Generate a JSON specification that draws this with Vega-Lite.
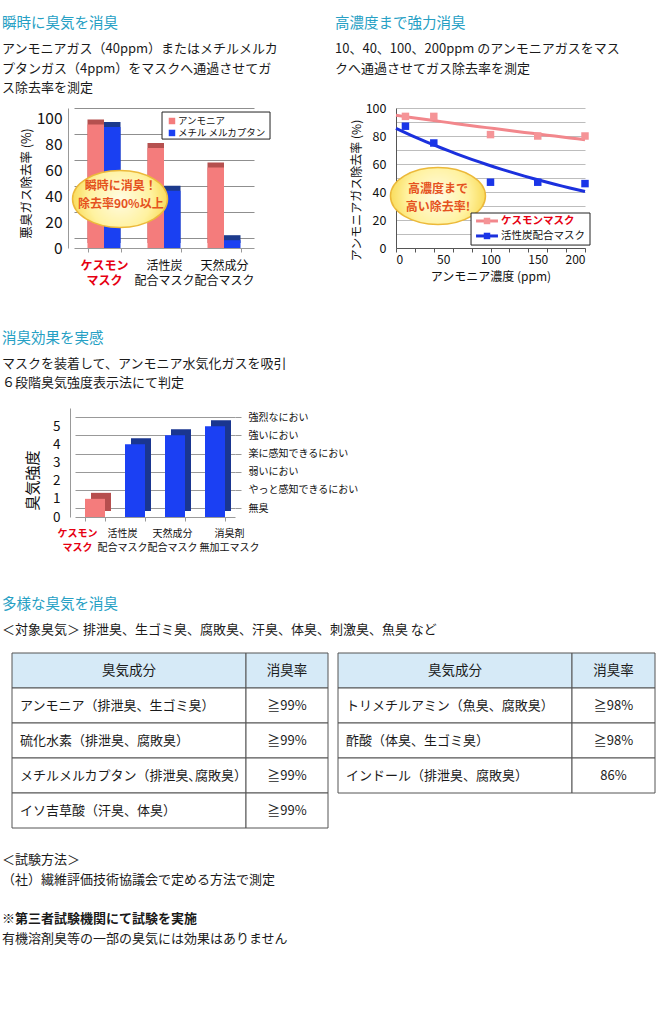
{
"$schema": "https://vega.github.io/schema/vega-lite/v6.json",
"padding": 0,
"background": "white",
"spacing": 0,
"bounds": "flush",
"resolve": {"scale": {"color": "independent", "fill": "independent", "stroke": "independent"}},
"config": {
  "font": "Noto Sans CJK JP",
  "view": {"stroke": null},
  "axis": {"labelFont": "Noto Sans CJK JP", "titleFont": "Noto Sans CJK JP", "labelColor": "#111", "titleColor": "#111"},
  "legend": {"labelFont": "Noto Sans CJK JP"},
  "text": {"font": "Noto Sans CJK JP"}
},
"vconcat": [
  {
    "width": 667, "height": 108,
    "data": {"values": [
      {"col": "L", "line": 0, "t": "瞬時に臭気を消臭"},
      {"col": "L", "line": 1, "t": "アンモニアガス（40ppm）またはメチルメルカ"},
      {"col": "L", "line": 2, "t": "プタンガス（4ppm）をマスクへ通過させてガ"},
      {"col": "L", "line": 3, "t": "ス除去率を測定"},
      {"col": "R", "line": 0, "t": "高濃度まで強力消臭"},
      {"col": "R", "line": 1, "t": "10、40、100、200ppm のアンモニアガスをマス"},
      {"col": "R", "line": 2, "t": "クへ通過させてガス除去率を測定"}
    ]},
    "encoding": {
      "x": {"field": "col", "type": "nominal", "scale": {"type": "point", "domain": ["L", "R"], "range": [2, 335], "padding": 0}, "axis": null},
      "y": {"field": "line", "type": "quantitative", "scale": {"domain": [1, 3], "range": [49, 88], "zero": false, "nice": false}, "axis": null},
      "text": {"field": "t"}
    },
    "layer": [
      {"transform": [{"filter": "datum.line == 0"}], "mark": {"type": "text", "align": "left", "baseline": "middle", "fontSize": 14.5, "color": "#26a0c4", "dy": -6}},
      {"transform": [{"filter": "datum.line > 0"}], "mark": {"type": "text", "align": "left", "baseline": "middle", "fontSize": 13, "color": "#1a1a1a"}}
    ]
  },
  {
    "spacing": 0, "bounds": "flush",
    "resolve": {"scale": {"color": "independent", "fill": "independent", "stroke": "independent"}},
    "hconcat": [
      {"width": 74, "height": 140, "data": {"values": []}, "mark": "text"},
      {
        "width": 180, "height": 140,
        "data": {"values": [
          {"mask": "ケスモンマスク", "gas": "アンモニア", "rate": 95},
          {"mask": "ケスモンマスク", "gas": "メチル メルカプタン", "rate": 93},
          {"mask": "活性炭配合マスク", "gas": "アンモニア", "rate": 77},
          {"mask": "活性炭配合マスク", "gas": "メチル メルカプタン", "rate": 44},
          {"mask": "天然成分配合マスク", "gas": "アンモニア", "rate": 62},
          {"mask": "天然成分配合マスク", "gas": "メチル メルカプタン", "rate": 6}
        ]},
        "layer": [
          {"layer": [
            {"mark": {"type": "bar", "xOffset": 6, "x2Offset": 6, "yOffset": -5, "y2Offset": -5},
             "encoding": {
               "x": {"field": "mask", "type": "nominal", "sort": null, "title": null, "scale": {"domain": ["ケスモンマスク", "活性炭配合マスク", "天然成分配合マスク"], "paddingInner": 0.45, "paddingOuter": 0.225},
                     "axis": {"orient": "bottom", "tickBand": "extent", "labelAngle": 0, "domainColor": "#999", "tickColor": "#999", "tickSize": 4, "labelPadding": 8, "labelFontSize": 12, "labelLineHeight": 15,
                              "labelExpr": "datum.value == 'ケスモンマスク' ? ['ケスモン', 'マスク'] : datum.value == '活性炭配合マスク' ? ['活性炭', '配合マスク'] : datum.value == '天然成分配合マスク' ? ['天然成分', '配合マスク'] : ''",
                              "labelColor": {"condition": {"test": "datum.value == 'ケスモンマスク'", "value": "#e60012"}, "value": "#111"},
                              "labelFontWeight": {"condition": {"test": "datum.value == 'ケスモンマスク'", "value": "bold"}, "value": "normal"}}},
               "xOffset": {"field": "gas", "type": "nominal", "sort": null, "scale": {"domain": ["アンモニア", "メチル メルカプタン"], "paddingInner": 0, "paddingOuter": 0}},
               "y": {"field": "rate", "type": "quantitative", "title": "悪臭ガス除去率 (%)", "scale": {"domain": [0, 107.7], "nice": false},
                     "axis": {"orient": "left", "values": [0, 20, 40, 60, 80, 100], "offset": 6, "tickOffset": -10, "labelOffset": 10, "ticks": false, "grid": true, "gridColor": "#8f8f8f", "domainColor": "#999", "labelFontSize": 15.5, "labelPadding": 6, "titleFontSize": 12.5, "titleFontWeight": "normal", "titlePadding": 3, "titleY": 75}},
               "fill": {"field": "gas", "type": "nominal", "scale": {"domain": ["アンモニア", "メチル メルカプタン"], "range": ["#b5504f", "#1c3a8c"]}, "legend": null}
             }},
            {"mark": {"type": "bar"},
             "encoding": {
               "x": {"field": "mask", "type": "nominal", "sort": null, "title": null, "scale": {"domain": ["ケスモンマスク", "活性炭配合マスク", "天然成分配合マスク"], "paddingInner": 0.45, "paddingOuter": 0.225},
                     "axis": {"orient": "bottom", "tickBand": "extent", "labelAngle": 0, "domainColor": "#999", "tickColor": "#999", "tickSize": 4, "labelPadding": 8, "labelFontSize": 12, "labelLineHeight": 15,
                              "labelExpr": "datum.value == 'ケスモンマスク' ? ['ケスモン', 'マスク'] : datum.value == '活性炭配合マスク' ? ['活性炭', '配合マスク'] : datum.value == '天然成分配合マスク' ? ['天然成分', '配合マスク'] : ''",
                              "labelColor": {"condition": {"test": "datum.value == 'ケスモンマスク'", "value": "#e60012"}, "value": "#111"},
                              "labelFontWeight": {"condition": {"test": "datum.value == 'ケスモンマスク'", "value": "bold"}, "value": "normal"}}},
               "xOffset": {"field": "gas", "type": "nominal", "sort": null, "scale": {"domain": ["アンモニア", "メチル メルカプタン"], "paddingInner": 0, "paddingOuter": 0}},
               "y": {"field": "rate", "type": "quantitative", "title": "悪臭ガス除去率 (%)", "scale": {"domain": [0, 107.7], "nice": false},
                     "axis": {"orient": "left", "values": [0, 20, 40, 60, 80, 100], "offset": 6, "tickOffset": -10, "labelOffset": 10, "ticks": false, "grid": true, "gridColor": "#8f8f8f", "domainColor": "#999", "labelFontSize": 15.5, "labelPadding": 6, "titleFontSize": 12.5, "titleFontWeight": "normal", "titlePadding": 3, "titleY": 75}},
               "color": {"field": "gas", "type": "nominal", "scale": {"domain": ["アンモニア", "メチル メルカプタン"], "range": ["#f47c7c", "#1a40f2"]}, "legend": null}
             }}
          ]},
          {"data": {"values": [{}]},
           "layer": [
             {"mark": {"type": "point", "shape": "M-1,0A1,0.6,0,1,1,1,0A1,0.6,0,1,1,-1,0Z", "size": 9025, "filled": true, "opacity": 1,
                       "fill": {"gradient": "radial", "stops": [{"offset": 0, "color": "#fffbe3"}, {"offset": 0.65, "color": "#fff2a0"}, {"offset": 1, "color": "#f9dc5c"}]},
                       "stroke": "#ecb93a", "strokeWidth": 1.5},
              "encoding": {"x": {"datum": 0.767, "type": "quantitative", "scale": {"domain": [0, 3]}, "axis": null},
                           "y": {"datum": 37.7, "type": "quantitative", "scale": {"domain": [0, 107.7], "nice": false}, "axis": null}}},
             {"mark": {"type": "text", "text": "瞬時に消臭！", "fontSize": 12, "fontWeight": "bold", "color": "#e5521e"},
              "encoding": {"x": {"datum": 0.78, "type": "quantitative", "scale": {"domain": [0, 3]}, "axis": null},
                           "y": {"datum": 47.5, "type": "quantitative", "scale": {"domain": [0, 107.7], "nice": false}, "axis": null}}},
             {"mark": {"type": "text", "text": "除去率90%以上", "fontSize": 12, "fontWeight": "bold", "color": "#e5521e"},
              "encoding": {"x": {"datum": 0.78, "type": "quantitative", "scale": {"domain": [0, 3]}, "axis": null},
                           "y": {"datum": 33.8, "type": "quantitative", "scale": {"domain": [0, 107.7], "nice": false}, "axis": null}}},
             {"mark": {"type": "rect", "fill": "white", "stroke": "#222", "strokeWidth": 1},
              "encoding": {"x": {"datum": 1.467, "type": "quantitative", "scale": {"domain": [0, 3]}, "axis": null}, "x2": {"datum": 3.267},
                           "y": {"datum": 104.6, "type": "quantitative", "scale": {"domain": [0, 107.7], "nice": false}, "axis": null}, "y2": {"datum": 83.8}}},
             {"mark": {"type": "square", "filled": true, "opacity": 1, "size": 42, "color": "#f47c7c"},
              "encoding": {"x": {"datum": 1.633, "type": "quantitative", "scale": {"domain": [0, 3]}, "axis": null},
                           "y": {"datum": 97.7, "type": "quantitative", "scale": {"domain": [0, 107.7], "nice": false}, "axis": null}}},
             {"mark": {"type": "square", "filled": true, "opacity": 1, "size": 42, "color": "#1a40f2"},
              "encoding": {"x": {"datum": 1.633, "type": "quantitative", "scale": {"domain": [0, 3]}, "axis": null},
                           "y": {"datum": 88.5, "type": "quantitative", "scale": {"domain": [0, 107.7], "nice": false}, "axis": null}}},
             {"mark": {"type": "text", "text": "アンモニア", "fontSize": 9.5, "align": "left", "baseline": "middle", "color": "#111"},
              "encoding": {"x": {"datum": 1.733, "type": "quantitative", "scale": {"domain": [0, 3]}, "axis": null},
                           "y": {"datum": 97.7, "type": "quantitative", "scale": {"domain": [0, 107.7], "nice": false}, "axis": null}}},
             {"mark": {"type": "text", "text": "メチル メルカプタン", "fontSize": 9.5, "align": "left", "baseline": "middle", "color": "#111"},
              "encoding": {"x": {"datum": 1.733, "type": "quantitative", "scale": {"domain": [0, 3]}, "axis": null},
                           "y": {"datum": 88.5, "type": "quantitative", "scale": {"domain": [0, 107.7], "nice": false}, "axis": null}}}
           ]}
        ],
        "resolve": {"scale": {"x": "independent", "y": "independent"}}
      },
      {"width": 142, "height": 140, "data": {"values": []}, "mark": "text"},
      {
        "width": 189, "height": 140,
        "data": {"values": [
          {"mask": "ケスモンマスク", "conc": 10, "rate": 94},
          {"mask": "ケスモンマスク", "conc": 40, "rate": 94},
          {"mask": "ケスモンマスク", "conc": 100, "rate": 81},
          {"mask": "ケスモンマスク", "conc": 150, "rate": 80},
          {"mask": "ケスモンマスク", "conc": 200, "rate": 80},
          {"mask": "活性炭配合マスク", "conc": 10, "rate": 87},
          {"mask": "活性炭配合マスク", "conc": 40, "rate": 75},
          {"mask": "活性炭配合マスク", "conc": 100, "rate": 47},
          {"mask": "活性炭配合マスク", "conc": 150, "rate": 47},
          {"mask": "活性炭配合マスク", "conc": 200, "rate": 46}
        ]},
        "layer": [
          {"layer": [
            {"transform": [{"regression": "rate", "on": "conc", "groupby": ["mask"], "method": "exp", "extent": [0, 200]}],
             "mark": {"type": "line", "strokeWidth": 3},
             "encoding": {
               "x": {"field": "conc", "type": "quantitative", "title": "アンモニア濃度 (ppm)", "scale": {"domain": [0, 200], "nice": false},
                     "axis": {"orient": "bottom", "values": [0, 20, 40, 50, 60, 80, 100, 120, 140, 150, 160, 180, 200], "labelExpr": "datum.value % 50 == 0 ? datum.label : ''", "labelOverlap": false, "labelBound": false,
                              "tickOpacity": {"condition": {"test": "datum.value % 20 != 0", "value": 0}, "value": 1},
                              "grid": false, "domainColor": "#555", "tickColor": "#555", "tickSize": 4, "labelFontSize": 12, "labelPadding": 2, "titleFontSize": 12, "titleFontWeight": "normal", "titlePadding": 6}},
               "y": {"field": "rate", "type": "quantitative", "title": "アンモニアガス除去率 (%)", "scale": {"domain": [0, 100], "nice": false},
                     "axis": {"orient": "left", "values": [0, 10, 20, 30, 40, 50, 60, 70, 80, 90, 100], "labelExpr": "datum.value % 20 == 0 ? datum.label : ''", "labelOverlap": false, "labelBound": false, "grid": true, "gridColor": "#bdbdbd", "ticks": false, "domainColor": "#555", "labelFontSize": 12.5, "labelPadding": 10, "titleFontSize": 12, "titleFontWeight": "normal", "titlePadding": 2, "titleY": 82}},
               "stroke": {"field": "mask", "type": "nominal", "scale": {"domain": ["ケスモンマスク", "活性炭配合マスク"], "range": ["#f2878c", "#1b30dd"]}, "legend": null}
             }},
            {"mark": {"type": "square", "filled": true, "opacity": 1, "size": 56},
             "encoding": {
               "x": {"field": "conc", "type": "quantitative", "title": "アンモニア濃度 (ppm)", "scale": {"domain": [0, 200], "nice": false},
                     "axis": {"orient": "bottom", "values": [0, 20, 40, 50, 60, 80, 100, 120, 140, 150, 160, 180, 200], "labelExpr": "datum.value % 50 == 0 ? datum.label : ''", "labelOverlap": false, "labelBound": false,
                              "tickOpacity": {"condition": {"test": "datum.value % 20 != 0", "value": 0}, "value": 1},
                              "grid": false, "domainColor": "#555", "tickColor": "#555", "tickSize": 4, "labelFontSize": 12, "labelPadding": 2, "titleFontSize": 12, "titleFontWeight": "normal", "titlePadding": 6}},
               "y": {"field": "rate", "type": "quantitative", "title": "アンモニアガス除去率 (%)", "scale": {"domain": [0, 100], "nice": false},
                     "axis": {"orient": "left", "values": [0, 10, 20, 30, 40, 50, 60, 70, 80, 90, 100], "labelExpr": "datum.value % 20 == 0 ? datum.label : ''", "labelOverlap": false, "labelBound": false, "grid": true, "gridColor": "#bdbdbd", "ticks": false, "domainColor": "#555", "labelFontSize": 12.5, "labelPadding": 10, "titleFontSize": 12, "titleFontWeight": "normal", "titlePadding": 2, "titleY": 82}},
               "color": {"field": "mask", "type": "nominal", "scale": {"domain": ["ケスモンマスク", "活性炭配合マスク"], "range": ["#f59497", "#1a35e8"]}, "legend": null}
             }}
          ]},
          {"data": {"values": [{}]},
           "layer": [
             {"mark": {"type": "point", "shape": "M-1,0A1,0.6,0,1,1,1,0A1,0.6,0,1,1,-1,0Z", "size": 9025, "filled": true, "opacity": 1,
                       "fill": {"gradient": "radial", "stops": [{"offset": 0, "color": "#fffbe3"}, {"offset": 0.65, "color": "#fff2a0"}, {"offset": 1, "color": "#f9dc5c"}]},
                       "stroke": "#ecb93a", "strokeWidth": 1.5},
              "encoding": {"x": {"datum": 44.4, "type": "quantitative", "scale": {"domain": [0, 200], "nice": false}, "axis": null},
                           "y": {"datum": 37.1, "type": "quantitative", "scale": {"domain": [0, 100], "nice": false}, "axis": null}}},
             {"mark": {"type": "text", "text": "高濃度まで", "fontSize": 12, "fontWeight": "bold", "color": "#e5521e"},
              "encoding": {"x": {"datum": 44.4, "type": "quantitative", "scale": {"domain": [0, 200], "nice": false}, "axis": null},
                           "y": {"datum": 42.3, "type": "quantitative", "scale": {"domain": [0, 100], "nice": false}, "axis": null}}},
             {"mark": {"type": "text", "text": "高い除去率!", "fontSize": 12, "fontWeight": "bold", "color": "#e5521e"},
              "encoding": {"x": {"datum": 44.4, "type": "quantitative", "scale": {"domain": [0, 200], "nice": false}, "axis": null},
                           "y": {"datum": 29.6, "type": "quantitative", "scale": {"domain": [0, 100], "nice": false}, "axis": null}}},
             {"mark": {"type": "rect", "fill": "white", "stroke": "#222", "strokeWidth": 1},
              "encoding": {"x": {"datum": 79.4, "type": "quantitative", "scale": {"domain": [0, 200], "nice": false}, "axis": null}, "x2": {"datum": 205.3},
                           "y": {"datum": 25, "type": "quantitative", "scale": {"domain": [0, 100], "nice": false}, "axis": null}, "y2": {"datum": 2.1}}},
             {"mark": {"type": "rule", "stroke": "#f2878c", "strokeWidth": 3},
              "encoding": {"x": {"datum": 84.7, "type": "quantitative", "scale": {"domain": [0, 200], "nice": false}, "axis": null}, "x2": {"datum": 107.9},
                           "y": {"datum": 19.3, "type": "quantitative", "scale": {"domain": [0, 100], "nice": false}, "axis": null}}},
             {"mark": {"type": "rule", "stroke": "#1b30dd", "strokeWidth": 3},
              "encoding": {"x": {"datum": 84.7, "type": "quantitative", "scale": {"domain": [0, 200], "nice": false}, "axis": null}, "x2": {"datum": 107.9},
                           "y": {"datum": 8.6, "type": "quantitative", "scale": {"domain": [0, 100], "nice": false}, "axis": null}}},
             {"mark": {"type": "square", "filled": true, "opacity": 1, "size": 42, "color": "#f59497"},
              "encoding": {"x": {"datum": 96.3, "type": "quantitative", "scale": {"domain": [0, 200], "nice": false}, "axis": null},
                           "y": {"datum": 19.3, "type": "quantitative", "scale": {"domain": [0, 100], "nice": false}, "axis": null}}},
             {"mark": {"type": "square", "filled": true, "opacity": 1, "size": 42, "color": "#1a35e8"},
              "encoding": {"x": {"datum": 96.3, "type": "quantitative", "scale": {"domain": [0, 200], "nice": false}, "axis": null},
                           "y": {"datum": 8.6, "type": "quantitative", "scale": {"domain": [0, 100], "nice": false}, "axis": null}}},
             {"mark": {"type": "text", "text": "ケスモンマスク", "fontSize": 10.5, "fontWeight": "bold", "align": "left", "baseline": "middle", "color": "#e60012"},
              "encoding": {"x": {"datum": 111.1, "type": "quantitative", "scale": {"domain": [0, 200], "nice": false}, "axis": null},
                           "y": {"datum": 19.3, "type": "quantitative", "scale": {"domain": [0, 100], "nice": false}, "axis": null}}},
             {"mark": {"type": "text", "text": "活性炭配合マスク", "fontSize": 10.5, "align": "left", "baseline": "middle", "color": "#111"},
              "encoding": {"x": {"datum": 111.1, "type": "quantitative", "scale": {"domain": [0, 200], "nice": false}, "axis": null},
                           "y": {"datum": 8.6, "type": "quantitative", "scale": {"domain": [0, 100], "nice": false}, "axis": null}}}
           ]}
        ],
        "resolve": {"scale": {"x": "independent", "y": "independent"}}
      }
    ]
  },
  {"width": 667, "height": 140, "data": {"values": []}, "mark": "text"},
  {
    "width": 667, "height": 160,
    "data": {"values": [
      {"col": "L", "line": 0, "t": "消臭効果を実感"},
      {"col": "L", "line": 1, "t": "マスクを装着して、アンモニア水気化ガスを吸引"},
      {"col": "L", "line": 2, "t": "６段階臭気強度表示法にて判定"}
    ]},
    "encoding": {
      "x": {"field": "col", "type": "nominal", "scale": {"type": "point", "domain": ["L", "R"], "range": [2, 335], "padding": 0}, "axis": null},
      "y": {"field": "line", "type": "quantitative", "scale": {"domain": [1, 2], "range": [116, 135], "zero": false, "nice": false}, "axis": null},
      "text": {"field": "t"}
    },
    "layer": [
      {"transform": [{"filter": "datum.line == 0"}], "mark": {"type": "text", "align": "left", "baseline": "middle", "fontSize": 14.5, "color": "#26a0c4", "dy": -6}},
      {"transform": [{"filter": "datum.line > 0"}], "mark": {"type": "text", "align": "left", "baseline": "middle", "fontSize": 13, "color": "#1a1a1a"}}
    ]
  },
  {
    "spacing": 0, "bounds": "flush",
    "hconcat": [
      {"width": 75, "height": 109, "data": {"values": []}, "mark": "text"},
      {
        "width": 160, "height": 109,
        "data": {"values": [
          {"mask": "ケスモンマスク", "level": 1},
          {"mask": "活性炭配合マスク", "level": 4},
          {"mask": "天然成分配合マスク", "level": 4.5},
          {"mask": "消臭剤無加工マスク", "level": 5}
        ]},
        "layer": [
          {"mark": {"type": "bar", "xOffset": 6, "x2Offset": 6, "yOffset": -6, "y2Offset": -6},
           "encoding": {
             "x": {"field": "mask", "type": "nominal", "sort": null, "title": null, "scale": {"paddingInner": 0.5, "paddingOuter": 0.25},
                   "axis": {"orient": "bottom", "tickBand": "extent", "labelAngle": 0, "domainColor": "#999", "tickColor": "#999", "tickSize": 4, "labelPadding": 7, "labelFontSize": 10, "labelLineHeight": 14,
                            "labelExpr": "datum.value == 'ケスモンマスク' ? ['ケスモン', 'マスク'] : datum.value == '活性炭配合マスク' ? ['活性炭', '配合マスク'] : datum.value == '天然成分配合マスク' ? ['天然成分', '配合マスク'] : datum.value == '消臭剤無加工マスク' ? ['消臭剤', '無加工マスク'] : ''",
                            "labelOffset": {"expr": "datum.value == 'ケスモンマスク' ? -18 : datum.value == '活性炭配合マスク' ? -13 : datum.value == '天然成分配合マスク' ? -3 : 14"},
                            "labelColor": {"condition": {"test": "datum.value == 'ケスモンマスク'", "value": "#e60012"}, "value": "#111"},
                            "labelFontWeight": {"condition": {"test": "datum.value == 'ケスモンマスク'", "value": "bold"}, "value": "normal"}}},
             "y": {"field": "level", "type": "quantitative", "title": null, "scale": {"domain": [0, 6], "nice": false},
                   "axis": {"orient": "right", "values": [0, 1, 2, 3, 4, 5], "tickOffset": -9, "domain": false, "ticks": true, "tickSize": 6, "tickColor": "#999", "grid": false, "labelPadding": 7, "labelFontSize": 10, "labelColor": "#111", "labelLimit": 300,
                            "labelExpr": "['無臭', 'やっと感知できるにおい', '弱いにおい', '楽に感知できるにおい', '強いにおい', '強烈なにおい'][datum.value]"}},
             "color": {"condition": {"test": "datum.mask == 'ケスモンマスク'", "value": "#b64e4e"}, "value": "#1a3690"}
           }},
          {"mark": {"type": "bar"},
           "encoding": {
             "x": {"field": "mask", "type": "nominal", "sort": null, "title": null, "scale": {"paddingInner": 0.5, "paddingOuter": 0.25},
                   "axis": {"orient": "bottom", "tickBand": "extent", "labelAngle": 0, "domainColor": "#999", "tickColor": "#999", "tickSize": 4, "labelPadding": 7, "labelFontSize": 10, "labelLineHeight": 14,
                            "labelExpr": "datum.value == 'ケスモンマスク' ? ['ケスモン', 'マスク'] : datum.value == '活性炭配合マスク' ? ['活性炭', '配合マスク'] : datum.value == '天然成分配合マスク' ? ['天然成分', '配合マスク'] : datum.value == '消臭剤無加工マスク' ? ['消臭剤', '無加工マスク'] : ''",
                            "labelOffset": {"expr": "datum.value == 'ケスモンマスク' ? -18 : datum.value == '活性炭配合マスク' ? -13 : datum.value == '天然成分配合マスク' ? -3 : 14"},
                            "labelColor": {"condition": {"test": "datum.value == 'ケスモンマスク'", "value": "#e60012"}, "value": "#111"},
                            "labelFontWeight": {"condition": {"test": "datum.value == 'ケスモンマスク'", "value": "bold"}, "value": "normal"}}},
             "y": {"field": "level", "type": "quantitative", "title": "臭気強度", "scale": {"domain": [0, 6], "nice": false},
                   "axis": {"orient": "left", "values": [0, 1, 2, 3, 4, 5], "offset": 5, "tickOffset": -9, "labelOffset": 9, "ticks": false, "grid": true, "gridColor": "#999", "domainColor": "#999", "labelFontSize": 13.5, "labelPadding": 10, "titleFontSize": 15, "titleFontWeight": "normal", "titlePadding": 12, "titleY": 72}},
             "color": {"condition": {"test": "datum.mask == 'ケスモンマスク'", "value": "#f47c7c"}, "value": "#1b40f3"}
           }}
        ],
        "resolve": {"axis": {"y": "independent"}}
      }
    ]
  },
  {"width": 667, "height": 109, "data": {"values": []}, "mark": "text"},
  {
    "width": 667, "height": 136,
    "data": {"values": [
      {"col": "L", "line": 0, "t": "多様な臭気を消臭"},
      {"col": "L", "line": 1, "t": "＜対象臭気＞ 排泄臭、生ゴミ臭、腐敗臭、汗臭、体臭、刺激臭、魚臭 など"}
    ]},
    "encoding": {
      "x": {"field": "col", "type": "nominal", "scale": {"type": "point", "domain": ["L", "R"], "range": [2, 335], "padding": 0}, "axis": null},
      "y": {"field": "line", "type": "quantitative", "scale": {"domain": [0, 1], "range": [93.5, 113], "zero": false, "nice": false}, "axis": null},
      "text": {"field": "t"}
    },
    "layer": [
      {"transform": [{"filter": "datum.line == 0"}], "mark": {"type": "text", "align": "left", "baseline": "middle", "fontSize": 14.5, "color": "#26a0c4", "dy": -6}},
      {"transform": [{"filter": "datum.line > 0"}], "mark": {"type": "text", "align": "left", "baseline": "middle", "fontSize": 13, "color": "#1a1a1a"}}
    ]
  },
  {
    "spacing": 0, "bounds": "flush",
    "hconcat": [
      {"width": 12, "height": 175, "data": {"values": []}, "mark": "text"},
      {
        "width": 234, "height": 175,
        "data": {"values": [
          {"row": "h", "t": "臭気成分"},
          {"row": "1", "t": "アンモニア（排泄臭、生ゴミ臭）"},
          {"row": "2", "t": "硫化水素（排泄臭、腐敗臭）"},
          {"row": "3", "t": "メチルメルカプタン（排泄臭､腐敗臭）"},
          {"row": "4", "t": "イソ吉草酸（汗臭、体臭）"}
        ]},
        "encoding": {"y": {"field": "row", "type": "nominal", "sort": null, "scale": {"type": "band", "domain": ["h", "1", "2", "3", "4"], "paddingInner": 0, "paddingOuter": 0}, "axis": null}},
        "layer": [
          {"mark": {"type": "rect", "stroke": "#555", "strokeWidth": 1}, "encoding": {"fill": {"condition": {"test": "datum.row == 'h'", "value": "#d6eaf7"}, "value": "#ffffff"}}},
          {"transform": [{"filter": "datum.row == 'h'"}], "mark": {"type": "text", "fontSize": 13.5, "color": "#1a1a1a"}, "encoding": {"text": {"field": "t"}}},
          {"transform": [{"filter": "datum.row != 'h'"}], "mark": {"type": "text", "fontSize": 13, "align": "left", "dx": 8, "color": "#1a1a1a"},
           "encoding": {"x": {"datum": "c", "type": "nominal", "bandPosition": 0, "scale": {"type": "band", "domain": ["c"], "paddingInner": 0, "paddingOuter": 0}, "axis": null}, "text": {"field": "t"}}}
        ]
      },
      {
        "width": 82, "height": 175,
        "data": {"values": [
          {"row": "h", "t": "消臭率"},
          {"row": "1", "t": "≧99%"},
          {"row": "2", "t": "≧99%"},
          {"row": "3", "t": "≧99%"},
          {"row": "4", "t": "≧99%"}
        ]},
        "encoding": {"y": {"field": "row", "type": "nominal", "sort": null, "scale": {"type": "band", "domain": ["h", "1", "2", "3", "4"], "paddingInner": 0, "paddingOuter": 0}, "axis": null}},
        "layer": [
          {"mark": {"type": "rect", "stroke": "#555", "strokeWidth": 1}, "encoding": {"fill": {"condition": {"test": "datum.row == 'h'", "value": "#d6eaf7"}, "value": "#ffffff"}}},
          {"transform": [{"filter": "datum.row == 'h'"}], "mark": {"type": "text", "fontSize": 13.5, "color": "#1a1a1a"}, "encoding": {"text": {"field": "t"}}},
          {"transform": [{"filter": "datum.row != 'h'"}], "mark": {"type": "text", "fontSize": 13, "color": "#1a1a1a"}, "encoding": {"text": {"field": "t"}}}
        ]
      },
      {"width": 10, "height": 175, "data": {"values": []}, "mark": "text"},
      {
        "width": 234, "height": 175,
        "data": {"values": [
          {"row": "h", "t": "臭気成分"},
          {"row": "1", "t": "トリメチルアミン（魚臭、腐敗臭）"},
          {"row": "2", "t": "酢酸（体臭、生ゴミ臭）"},
          {"row": "3", "t": "インドール（排泄臭、腐敗臭）"}
        ]},
        "encoding": {"y": {"field": "row", "type": "nominal", "sort": null, "scale": {"type": "band", "domain": ["h", "1", "2", "3", "4"], "paddingInner": 0, "paddingOuter": 0}, "axis": null}},
        "layer": [
          {"mark": {"type": "rect", "stroke": "#555", "strokeWidth": 1}, "encoding": {"fill": {"condition": {"test": "datum.row == 'h'", "value": "#d6eaf7"}, "value": "#ffffff"}}},
          {"transform": [{"filter": "datum.row == 'h'"}], "mark": {"type": "text", "fontSize": 13.5, "color": "#1a1a1a"}, "encoding": {"text": {"field": "t"}}},
          {"transform": [{"filter": "datum.row != 'h'"}], "mark": {"type": "text", "fontSize": 13, "align": "left", "dx": 8, "color": "#1a1a1a"},
           "encoding": {"x": {"datum": "c", "type": "nominal", "bandPosition": 0, "scale": {"type": "band", "domain": ["c"], "paddingInner": 0, "paddingOuter": 0}, "axis": null}, "text": {"field": "t"}}}
        ]
      },
      {
        "width": 83, "height": 175,
        "data": {"values": [
          {"row": "h", "t": "消臭率"},
          {"row": "1", "t": "≧98%"},
          {"row": "2", "t": "≧98%"},
          {"row": "3", "t": "86%"}
        ]},
        "encoding": {"y": {"field": "row", "type": "nominal", "sort": null, "scale": {"type": "band", "domain": ["h", "1", "2", "3", "4"], "paddingInner": 0, "paddingOuter": 0}, "axis": null}},
        "layer": [
          {"mark": {"type": "rect", "stroke": "#555", "strokeWidth": 1}, "encoding": {"fill": {"condition": {"test": "datum.row == 'h'", "value": "#d6eaf7"}, "value": "#ffffff"}}},
          {"transform": [{"filter": "datum.row == 'h'"}], "mark": {"type": "text", "fontSize": 13.5, "color": "#1a1a1a"}, "encoding": {"text": {"field": "t"}}},
          {"transform": [{"filter": "datum.row != 'h'"}], "mark": {"type": "text", "fontSize": 13, "color": "#1a1a1a"}, "encoding": {"text": {"field": "t"}}}
        ]
      }
    ]
  },
  {"width": 667, "height": 175, "data": {"values": []}, "mark": "text"},
  {
    "width": 667, "height": 196,
    "data": {"values": [
      {"col": "L", "line": 1, "t": "＜試験方法＞"},
      {"col": "L", "line": 2, "t": "（社）繊維評価技術協議会で定める方法で測定"},
      {"col": "L", "line": 4, "t": "※第三者試験機関にて試験を実施"},
      {"col": "L", "line": 5, "t": "有機溶剤臭等の一部の臭気には効果はありません"}
    ]},
    "encoding": {
      "x": {"field": "col", "type": "nominal", "scale": {"type": "point", "domain": ["L", "R"], "range": [2, 335], "padding": 0}, "axis": null},
      "y": {"field": "line", "type": "quantitative", "scale": {"domain": [1, 5], "range": [32, 111], "zero": false, "nice": false}, "axis": null},
      "text": {"field": "t"}
    },
    "layer": [
      {"transform": [{"filter": "datum.line != 4"}], "mark": {"type": "text", "align": "left", "baseline": "middle", "fontSize": 13, "color": "#1a1a1a"}},
      {"transform": [{"filter": "datum.line == 4"}], "mark": {"type": "text", "align": "left", "baseline": "middle", "fontSize": 13, "fontWeight": "bold", "color": "#1a1a1a"}}
    ]
  }
]
}
